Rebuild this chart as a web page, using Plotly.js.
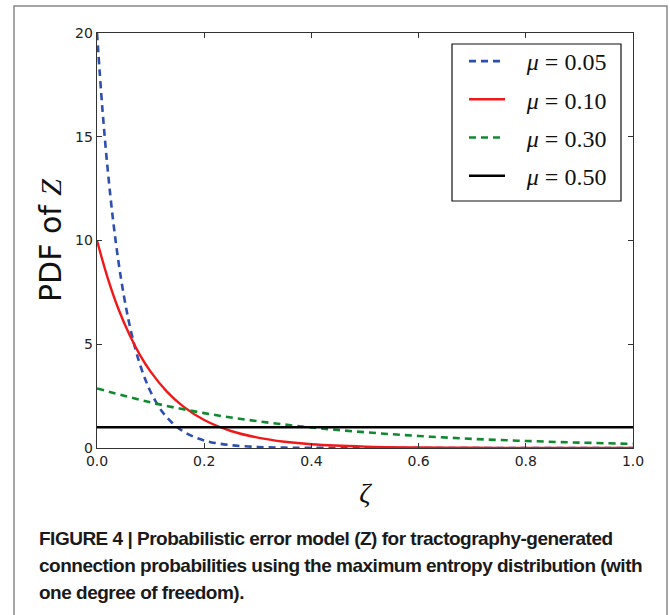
<!DOCTYPE html>
<html>
<head>
<meta charset="utf-8">
<script src="https://cdn.plot.ly/plotly-3.0.1.min.js"></script>
<style>
html,body{margin:0;padding:0;background:#fff;}
#chart{width:670px;height:615px;}
</style>
</head>
<body>
<div id="chart"></div>
<script>
// values
const zeta05 = [0,0.01,0.02,0.03,0.04,0.05,0.06,0.07,0.08,0.09,0.1,0.12,0.14,0.16,0.18,0.2,0.22,0.25,0.3,0.35,0.4,0.5,0.6,0.8,1.0];
const pdf05  = [20,16.37,13.41,10.98,8.99,7.36,6.02,4.93,4.04,3.31,2.71,1.81,1.22,0.815,0.546,0.366,0.245,0.135,0.05,0.018,0.007,0.001,0,0,0];
const zeta10 = [0,0.02,0.04,0.06,0.08,0.1,0.13,0.16,0.2,0.25,0.3,0.35,0.4,0.5,0.6,0.7,0.8,0.9,1.0];
const pdf10  = [10,8.19,6.70,5.49,4.49,3.68,2.73,2.02,1.35,0.82,0.50,0.30,0.18,0.067,0.025,0.009,0.003,0.001,0.0005];
const zeta30 = [0,0.1,0.2,0.3,0.4,0.5,0.6,0.7,0.8,0.9,1.0];
const pdf30  = [2.87,2.20,1.68,1.29,0.99,0.76,0.58,0.44,0.34,0.26,0.20];
const zeta50 = [0,1];
const pdf50  = [1,1];
const seriesNames = ['<i>μ</i> = 0.05','<i>μ</i> = 0.10','<i>μ</i> = 0.30','<i>μ</i> = 0.50'];
const xTicks = [0,0.2,0.4,0.6,0.8,1.0];
const xTickText = ['0.0','0.2','0.4','0.6','0.8','1.0'];
const yTicks = [0,5,10,15,20];
const captionLines = [
  'FIGURE 4 | Probabilistic error model (Z) for tractography-generated',
  'connection probabilities using the maximum entropy distribution (with',
  'one degree of freedom).'
];

const W = 670, H = 615;
const L = 97, R = 633, T = 33, B = 448;
const px = x => (x - L) / (R - L);
const py = y => (B - y) / (B - T);

const traces = [
  {x: zeta05, y: pdf05, name: seriesNames[0], line:{color:'#2f4fb0', width:2.6, dash:'7px,5px', shape:'spline'}},
  {x: zeta10, y: pdf10, name: seriesNames[1], line:{color:'#f01818', width:2.4, shape:'spline'}},
  {x: zeta30, y: pdf30, name: seriesNames[2], line:{color:'#108a30', width:2.6, dash:'7px,5px', shape:'spline'}},
  {x: zeta50, y: pdf50, name: seriesNames[3], line:{color:'#000000', width:2.6}}
].map((t,i) => Object.assign({type:'scatter', mode:'lines', legendgroup:'g'+i, hoverinfo:'skip'}, t,
   {name: '\u2002\u2009' + t.name}));

const axisCommon = {
  showgrid:false, zeroline:false, showline:true, linecolor:'#333', linewidth:1.3,
  mirror:'allticks', ticks:'inside', ticklen:5, tickcolor:'#333', tickwidth:1,
  tickfont:{family:'DejaVu Sans', size:14, color:'#222'}
};

const annotations = captionLines.map((txt,i) => ({
  text: '<b><span style="letter-spacing:-0.5px">' + txt + '</span></b>',
  xref:'paper', yref:'paper', x: px(37), y: py(538 + i*27),
  xanchor:'left', yanchor:'middle', showarrow:false, align:'left',
  font:{family:'Liberation Sans, Arial', size:19, color:'#1a1a1a'}
}));

const layout = {
  width: W, height: H,
  margin:{l:L, r:W-R, t:T, b:H-B, pad:0},
  paper_bgcolor:'#fff', plot_bgcolor:'#fff',
  showlegend:true,
  legend:{x:px(464), y:py(39), xanchor:'left', yanchor:'top',
    borderwidth:0, bgcolor:'rgba(0,0,0,0)',
    font:{family:'Liberation Serif, DejaVu Serif, serif', size:24, color:'#111'},
    tracegroupgap:4, itemwidth:36},
  xaxis: Object.assign({}, axisCommon, {range:[0,1], tickvals:xTicks, ticktext:xTickText,
    title:{text:'<i>ζ</i>', font:{family:'Liberation Serif, DejaVu Serif, serif', size:28, color:'#111'}, standoff:14}}),
  yaxis: Object.assign({}, axisCommon, {range:[0,20], tickvals:yTicks,
    title:{text:'PDF of <i><span style="font-family:Liberation Serif">Z</span></i>', font:{family:'DejaVu Sans', size:30, color:'#111'}, standoff:4}}),
  annotations: annotations,
  shapes:[
    {type:'rect', xref:'paper', yref:'paper', x0:px(14), x1:px(667), y0:py(640), y1:py(6),
      line:{color:'#888', width:1.5}, fillcolor:'rgba(0,0,0,0)', layer:'below'},
    {type:'rect', xref:'paper', yref:'paper', x0:px(452), x1:px(621), y0:py(201), y1:py(44),
      line:{color:'#111', width:1.2}, fillcolor:'#fff', layer:'above'}
  ]
};

Plotly.newPlot('chart', traces, layout, {staticPlot:true, displayModeBar:false});
</script>
</body>
</html>
